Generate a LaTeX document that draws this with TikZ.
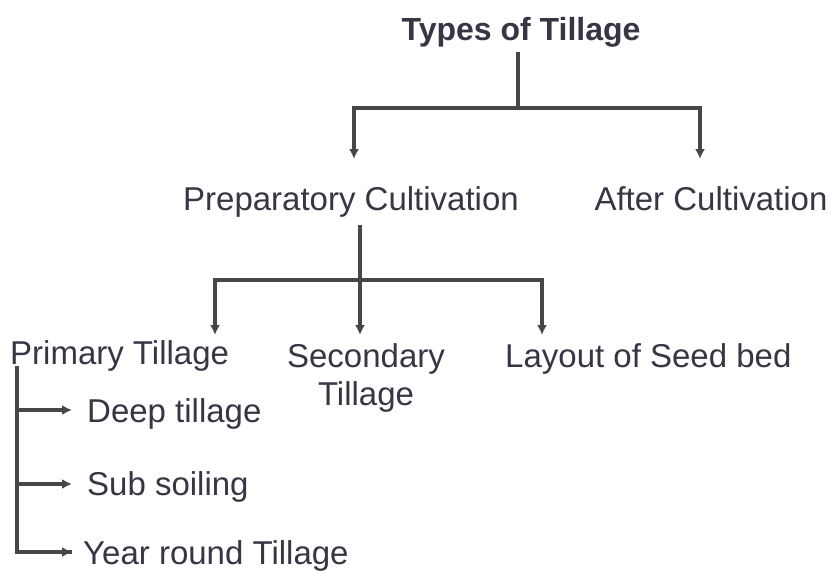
\documentclass[tikz,border=0pt]{standalone}
\usepackage{fontspec}
\setmainfont{Liberation Sans}
\usetikzlibrary{arrows.meta}
\definecolor{txt}{HTML}{363644}
\definecolor{ln}{HTML}{474747}
\begin{document}
\begin{tikzpicture}[x=1pt,y=-1pt,
  lbl/.style={inner sep=0pt,text=txt,font=\fontsize{33}{38}\selectfont},
  conn/.style={draw=ln,line width=3.2pt},
  arr/.style={conn,-{Latex[length=10pt,width=10pt]}}]
\useasboundingbox[fill=white] (0,0) rectangle (832,570);
% nodes
\node[lbl,anchor=base,font=\bfseries\fontsize{32}{38}\selectfont] (t) at (521,40) {Types of Tillage};
\node[lbl,anchor=base] (pc) at (351,210) {Preparatory Cultivation};
\node[lbl,anchor=base] (ac) at (711,210) {After Cultivation};
\node[lbl,anchor=base west] (pt) at (10,364) {Primary Tillage};
\node[lbl,anchor=base,align=center] (st) at (366,405) {Secondary\\[0pt]Tillage};
\node[lbl,anchor=base west] (ls) at (505,367) {Layout of Seed bed};
\node[lbl,anchor=base west] (dt) at (87,422) {Deep tillage};
\node[lbl,anchor=base west] (ss) at (87,495) {Sub soiling};
\node[lbl,anchor=base west] (yr) at (83,564) {Year round Tillage};
% junctions and tips
\coordinate (j1) at (518,108);
\coordinate (a1) at (354,159);
\coordinate (a2) at (700,159);
\coordinate (j2) at (360,280);
\coordinate (b1) at (215,335);
\coordinate (b2) at (360,335);
\coordinate (b3) at (542,335);
\coordinate (p0) at (17,366);
\coordinate (c1) at (72,410);
\coordinate (c2) at (72,484);
\coordinate (c3) at (72,552);
% connectors
\draw[conn] (t.south -| j1) ++(0,5) -- (j1);
\draw[arr] (j1) -| (a1);
\draw[arr] (j1) -| (a2);
\draw[conn] (pc.south -| j2) ++(0,8) -- (j2);
\draw[arr] (j2) -| (b1);
\draw[arr] (j2) -- (b2);
\draw[arr] (j2) -| (b3);
\draw[conn] (p0) |- (c3);
\draw[arr] (p0 |- c1) -- (c1);
\draw[arr] (p0 |- c2) -- (c2);
\draw[arr] (p0 |- c3) -- (c3);
\end{tikzpicture}
\end{document}
